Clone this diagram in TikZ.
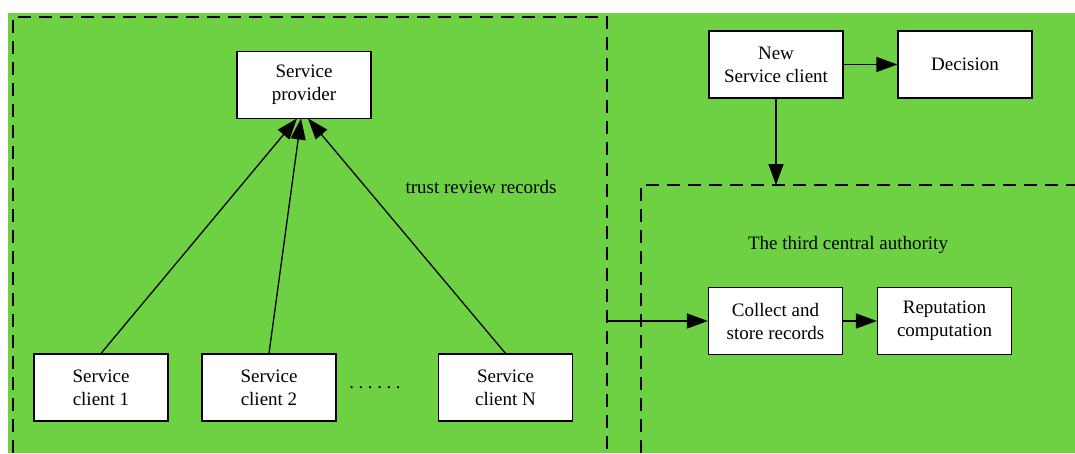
\documentclass[tikz,border=0pt]{standalone}
\usepackage{fontspec}
\setmainfont{Liberation Serif}
\usetikzlibrary{arrows.meta}
\definecolor{bg}{RGB}{109,209,67}
\begin{document}
\begin{tikzpicture}[x=1pt,y=-1pt,
 box/.style={draw=black,line width=1.2pt,fill=white,minimum width=134pt,minimum height=67pt,inner sep=0pt,align=center,font=\fontsize{19}{23}\selectfont},
 lbl/.style={font=\fontsize{19}{23}\selectfont,inner sep=0pt},
 arr/.style={line width=1.3pt,-{Triangle[length=21pt,width=15pt]}},
 dashbox/.style={line width=1.5pt,dash pattern=on 13pt off 8pt}]
\useasboundingbox (0,0) rectangle (1075,453);
\fill[bg] (8,13) rectangle (1075,453);
% dashed regions
\draw[dashbox] (13,453) -- (13,17) -- (607,17) -- (607,453);
\draw[dashbox] (641,453) -- (641,185) -- (1075,185);
% nodes
\node[box] (prov) at (304,85) {Service\\provider};
\node[box] (c1) at (101,387.5) {Service\\client 1};
\node[box] (c2) at (269,387.5) {Service\\client 2};
\node[box] (cn) at (505.5,387.5) {Service\\client N};
\node[lbl] (dots) at (375,388) {.\hspace{4.6pt}.\hspace{4.6pt}.\hspace{4.6pt}.\hspace{4.6pt}.\hspace{4.6pt}.};
\node[lbl] (trust) at (481,187) {trust review records};
\node[box] (newc) at (776,64.5) {New\\Service client};
\node[box] (dec) at (965,64.5) {Decision};
\node[lbl] (third) at (848,245) {The third central authority};
\node[box] (coll) at (775.5,321) {Collect and\\store records};
\node[box] (rep) at (944.5,321) {Reputation\\computation};
% connector end points
\coordinate (p1) at (297,118.5);
\coordinate (p2) at (301,118.5);
\coordinate (p3) at (308,118.5);
\coordinate (lb) at (607,321);
\coordinate (rtop) at (776,185);
% connectors
\draw[arr] (c1.north) -- (p1);
\draw[arr] (c2.north) -- (p2);
\draw[arr] (cn.north) -- (p3);
\draw[arr] (newc.east) -- (dec.west);
\draw[arr] (newc.south) -- (rtop);
\draw[arr] (lb) -- (coll.west);
\draw[arr] (coll.east) -- (rep.west);
\end{tikzpicture}
\end{document}
